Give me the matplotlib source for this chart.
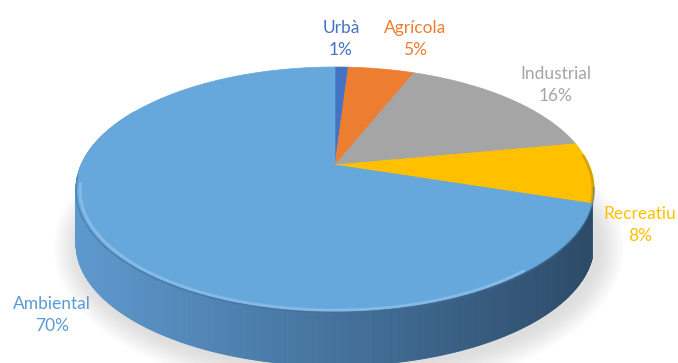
import numpy as np
import matplotlib.pyplot as plt
from matplotlib.patches import Polygon, Ellipse
from matplotlib.colors import to_rgb

labels = ['Urbà', 'Agrícola', 'Industrial', 'Recreatiu', 'Ambiental']
shares = [1, 5, 16, 8, 70]
top_colors = ['#4472C4', '#ED7D31', '#A5A5A5', '#FFC000', '#66A7DC']
text_colors = ['#4472C4', '#ED7D31', '#A5A5A5', '#FFC000', '#5B9BD5']
label_pos = [(341, 39), (415, 39), (556, 85), (640, 225), (52, 315)]

W, H = 678, 363
cx, cy = 335., 189.      # centre of the top ellipse (px)
a, b = 259., 122.        # semi axes of the top ellipse
beta = -0.197            # perspective tilt
depth = 55.              # thickness of the disc


def rim(phi, r=1.0):
    # point of the disc at angle phi (clockwise from 12 o'clock) seen in perspective
    u = r * np.sin(phi)
    v = -r * np.cos(phi)
    d = 1 + beta * v
    x = cx + a * u * np.sqrt(1 - beta ** 2) / d
    y = cy + b * (v + beta) / d
    return x, y


fig = plt.figure(figsize=(W / 100, H / 100), dpi=100)
ax = fig.add_axes([0, 0, 1, 1])
ax.set_xlim(0, W)
ax.set_ylim(H, 0)
ax.axis('off')

# soft shadow under the disc
for k in range(12):
    grow = 2 + 2.2 * k
    ax.add_patch(Ellipse((cx + 4, cy + depth + 4), 2 * (a + grow), 2 * (b + grow),
                         color='#808080', alpha=0.018, lw=0, zorder=0))

bounds = np.cumsum([0] + shares) / sum(shares) * 2 * np.pi

# side wall, drawn in thin vertical strips so it can be shaded left to right
side_left = np.array(to_rgb('#5E99CE'))
side_mid = np.array(to_rgb('#44729C'))
side_right = np.array(to_rgb('#2C4A67'))


def side_colour(x):
    t = (x - (cx - a)) / (2 * a)
    if t < 0.5:
        return side_left + (side_mid - side_left) * (t / 0.5)
    return side_mid + (side_right - side_mid) * ((t - 0.5) / 0.5)


i_amb = labels.index('Ambiental')
lo = max(bounds[i_amb], np.radians(95))
hi = min(bounds[i_amb + 1], np.radians(300))
n = int(np.degrees(hi - lo) * 2)
ph = np.linspace(lo, hi, n)
xs, ys = rim(ph)
for j in range(n - 1):
    quad = [(xs[j], ys[j]), (xs[j + 1], ys[j + 1]),
            (xs[j + 1], ys[j + 1] + depth), (xs[j], ys[j] + depth)]
    c = side_colour(0.5 * (xs[j] + xs[j + 1]))
    ax.add_patch(Polygon(quad, closed=True, fc=c, ec=c, lw=0.6, zorder=1))

# top face
vx, vy = rim(0.0, r=0.0)
for i in range(len(shares)):
    ph = np.linspace(bounds[i], bounds[i + 1], max(int(np.degrees(bounds[i + 1] - bounds[i]) * 2), 3))
    xs, ys = rim(ph)
    pts = [(vx, vy)] + list(zip(xs, ys))
    ax.add_patch(Polygon(pts, closed=True, fc=top_colors[i], ec=top_colors[i],
                         lw=0.5, zorder=2))

# darker rim on the right of the yellow slice
i_rec = labels.index('Recreatiu')
ph = np.linspace(max(bounds[i_rec], np.radians(85)), bounds[i_rec + 1], 40)
xs, ys = rim(ph)
ax.plot(xs - 1.0, ys, color='#D9A400', lw=2.0, zorder=3, solid_capstyle='butt')

# rounded bevel: a pale highlight and a darker rim line along the front edge
ph = np.linspace(np.radians(140), np.radians(262), 200)
xs, ys = rim(ph, r=0.985)
ax.plot(xs, ys + 2, color='#9FCBF0', lw=2.2, alpha=0.55, zorder=3, solid_capstyle='round')
ph = np.linspace(np.radians(100), np.radians(265), 300)
xs, ys = rim(ph)
ax.plot(xs, ys + 1.5, color='#3F6F9C', lw=1.2, alpha=0.5, zorder=3)

# data labels
for name, pct, col, (lx, ly) in zip(labels, shares, text_colors, label_pos):
    ax.text(lx, ly, f'{name}\n{pct}%', color=col, ha='center', va='center',
            fontsize=12.5, family='Lato', linespacing=1.45, zorder=4)

fig.savefig('out.png', dpi=100)
